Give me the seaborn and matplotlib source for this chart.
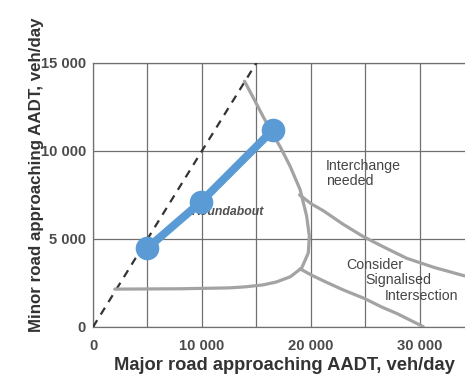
import matplotlib
matplotlib.use("Agg")
import matplotlib.pyplot as plt
import seaborn as sns
import pandas as pd

# Intersection-type warrant chart: major vs. minor road approach volumes
major_ticks = [0, 10000, 20000, 30000]
minor_ticks = [0, 5000, 10000, 15000]

# Equal-volume reference line
equal_x = [0, 15000]
equal_y = [0, 15000]

# Boundary enclosing the roundabout region
rbt_x = [13900, 14800, 15600, 16400, 17200, 18100, 19000, 19600, 19850,
         19750, 19150, 18100, 16800, 15600, 14000, 12500, 8000, 2000]
rbt_y = [13950, 12900, 11950, 11050, 10200, 9100, 7800, 6300, 5150,
         4200, 3350, 2850, 2550, 2390, 2280, 2220, 2170, 2150]

# Boundary between interchange and signalised intersection
ich_x = [18950, 20000, 21130, 22900, 24800, 26800, 28780, 31300, 34100]
ich_y = [7500, 7000, 6600, 5850, 5130, 4500, 3900, 3380, 2900]

# Lower edge of the signalised-intersection zone
sig_x = [19000, 20000, 21130, 22900, 24900, 26500, 27900, 29000, 30300]
sig_y = [3300, 2960, 2620, 2120, 1620, 1130, 760, 420, 20]

# Plotted site volumes
site_major = [5000, 9900, 16500]
site_minor = [4480, 7100, 11180]

sns.set_theme(style="white")
plt.rcParams["font.family"] = ["Liberation Sans", "DejaVu Sans"]

W, H = 465, 378
fig = plt.figure(figsize=(W / 100, H / 100), dpi=100)
ax = fig.add_axes([93 / W, 51 / H, 372 / W, 264.3 / H])

grid_c = "#707070"
curve_c = "#a3a3a3"
text_c = "#454545"

ax.set_xlim(0, 34130)
ax.set_ylim(0, 15000)

ax.set_xticks(major_ticks)
ax.set_xticks([5000, 15000, 25000], minor=True)
ax.set_yticks(minor_ticks)
fmt = lambda v: f"{v:,.0f}".replace(",", " ")
ax.set_xticklabels([fmt(v) for v in major_ticks])
ax.set_yticklabels([fmt(v) for v in minor_ticks])
ax.grid(True, which="both", color=grid_c, lw=0.9)
ax.tick_params(which="both", length=0)
ax.tick_params(axis="x", pad=9, labelsize=10.6, labelcolor="#4a4a4a")
ax.tick_params(axis="y", pad=5, labelsize=10.6, labelcolor="#4a4a4a")
for lab in ax.get_xticklabels() + ax.get_yticklabels():
    lab.set_fontweight("bold")

for side in ["left", "bottom", "top"]:
    ax.spines[side].set_color(grid_c)
    ax.spines[side].set_linewidth(0.9)
ax.spines["right"].set_visible(False)

# Dashed equal-volume line
ax.plot(equal_x, equal_y, color="#333333", lw=1.6, dashes=(3.6, 3.0), zorder=3)

# Zone boundaries
for xs, ys in [(rbt_x, rbt_y), (ich_x, ich_y), (sig_x, sig_y)]:
    sns.lineplot(x=xs, y=ys, sort=False, estimator=None, color=curve_c,
                 lw=2.3, ax=ax, zorder=3)

# Zone labels
ax.text(21380, 8720, "Interchange\nneeded", fontsize=10.2, color=text_c,
        ha="left", va="center", linespacing=1.1, zorder=4)
ax.text(12340, 6530, "Roundabout", fontsize=8.8, color="#505050",
        style="italic", fontweight="bold", ha="center", va="center", zorder=4)
ax.text(23270, 3520, "Consider", fontsize=10.2, color=text_c,
        ha="left", va="center", zorder=4)
ax.text(25000, 2670, "Signalised", fontsize=10.2, color=text_c,
        ha="left", va="center", zorder=4)
ax.text(26790, 1760, "Intersection", fontsize=10.2, color=text_c,
        ha="left", va="center", zorder=4)

# Site volumes
sites = pd.DataFrame({"major": site_major, "minor": site_minor})
sns.lineplot(data=sites, x="major", y="minor", sort=False, estimator=None,
             color="#5b9bd5", lw=5.8, marker="o", markersize=17,
             markeredgewidth=0, ax=ax, zorder=6, clip_on=False)

ax.set_xlabel("Major road approaching AADT, veh/day", fontsize=13.2,
              fontweight="bold", color="#333333", ha="left", va="center")
ax.xaxis.set_label_coords(21 / 372, -38 / 264.3)
ax.set_ylabel("Minor road approaching AADT, veh/day", fontsize=12.2,
              fontweight="bold", color="#333333", va="center")
ax.yaxis.set_label_coords(-57 / 372, 152 / 264.3)

fig.savefig("out.png", dpi=100)
